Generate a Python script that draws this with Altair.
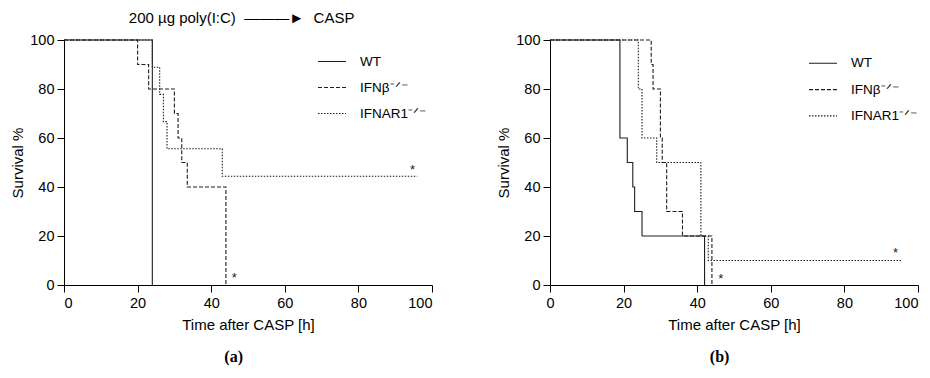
import altair as alt
import pandas as pd

# ---------------- data ----------------
groups = ["WT", "IFNβ⁻ᐟ⁻", "IFNAR1⁻ᐟ⁻"]

# panel (a)
a_wt_t = [0, 24]
a_wt_s = [100, 0]
a_ifnb_t = [0, 20, 23, 30, 31, 32, 33.5, 44]
a_ifnb_s = [100, 90, 80, 70, 60, 50, 40, 0]
a_ifnar_t = [0, 24, 26, 27, 28, 43, 96]
a_ifnar_s = [100, 88.9, 77.8, 66.7, 55.6, 44.4, 44.4]
a_star_t = [46.3, 94.7]
a_star_s = [3, 47]

# panel (b)
b_wt_t = [0, 19, 21, 22.5, 23, 25, 42]
b_wt_s = [100, 60, 50, 40, 30, 20, 0]
b_ifnb_t = [0, 27.5, 28, 30, 30.5, 31.7, 36, 44]
b_ifnb_s = [100, 90, 80, 60, 50, 30, 20, 0]
b_ifnar_t = [0, 24, 25, 29, 41, 43, 95.5]
b_ifnar_s = [100, 80, 60, 50, 20, 10, 10]
b_star_t = [46.4, 93.9]
b_star_s = [2.5, 13]

x_ticks = [0, 20, 40, 60, 80, 100]
y_ticks = [0, 20, 40, 60, 80, 100]

top_label = "200 µg poly(I:C)\u00a0\u00a0———►\u00a0\u00a0\u200aCASP"

FONT = "Liberation Sans"
INK = "#1e1e1e"


def curves(series):
    rows = []
    for g, (ts, ss) in zip(groups, series):
        for t, s in zip(ts, ss):
            rows.append({"group": g, "t": t, "s": s})
    return pd.DataFrame(rows)


def panel(series, star_t, star_s, lx, ly, rp, label, last_right=False):
    df = curves(series)
    stars = pd.DataFrame({"t": star_t, "s": star_s})
    xaxis_kw = dict(values=x_ticks, title="Time after CASP [h]", titlePadding=8)
    if last_right:
        xaxis_kw["labelAlign"] = alt.condition("datum.value == 100", alt.value("right"),
                                               alt.value("center"))
    xenc = alt.X("t:Q", scale=alt.Scale(domain=[0, 100], nice=False), axis=alt.Axis(**xaxis_kw))
    yenc = alt.Y("s:Q", scale=alt.Scale(domain=[0, 100], nice=False),
                 axis=alt.Axis(values=y_ticks, title="Survival %", titlePadding=4,
                               labelPadding=3))
    lines = alt.Chart(df).mark_line(interpolate="step-after", color=INK, strokeWidth=1.1).encode(
        x=xenc,
        y=yenc,
        order=alt.Order("t:Q"),
        strokeDash=alt.StrokeDash(
            "group:N",
            scale=alt.Scale(domain=groups, range=[[1, 0], [4, 2], [1.5, 1.5]]),
            legend=alt.Legend(
                title=None, orient="none", legendX=lx, legendY=ly,
                symbolType="stroke", symbolSize=784, symbolStrokeWidth=1.1,
                symbolStrokeColor=INK, labelFont=FONT, labelFontSize=13.5,
                labelColor="black", labelOffset=13, rowPadding=rp, padding=0,
            ),
        ),
    )
    star = alt.Chart(stars).mark_text(text="*", fontSize=13, font=FONT, color=INK).encode(
        x="t:Q", y="s:Q"
    )
    return alt.layer(lines, star).properties(
        width=368, height=245,
        title=alt.TitleParams(label, orient="bottom", frame="bounds", font="Liberation Serif",
                              fontSize=16, fontWeight="bold", color="black", offset=16, dx=12),
    )


pa = panel([(a_wt_t, a_wt_s), (a_ifnb_t, a_ifnb_s), (a_ifnar_t, a_ifnar_s)],
           a_star_t, a_star_s, 253, 6.5, 4, "(a)")
pb = panel([(b_wt_t, b_wt_s), (b_ifnb_t, b_ifnb_s), (b_ifnar_t, b_ifnar_s)],
           b_star_t, b_star_s, 258, 8.3, 4.3, "(b)", last_right=True)

chart = alt.hconcat(
    pa, pb, spacing=63,
    title=alt.TitleParams(top_label, anchor="start", dx=118,
                          font=FONT, fontSize=15, fontWeight="normal", color="black", offset=6),
).resolve_legend(strokeDash="independent").configure_axis(
    grid=False, domainColor="black", tickColor="black", domainWidth=1, tickWidth=1,
    tickSize=7, labelPadding=4, labelFont=FONT, labelFontSize=14.5, labelColor="black",
    titleFont=FONT, titleFontSize=15, titleFontWeight="normal", titleColor="black",
).configure_view(stroke=None).properties(
    padding={"left": 2, "top": 3, "right": 2, "bottom": 5}
)

chart.save("out.html", embed_options={"renderer": "svg", "actions": False})
